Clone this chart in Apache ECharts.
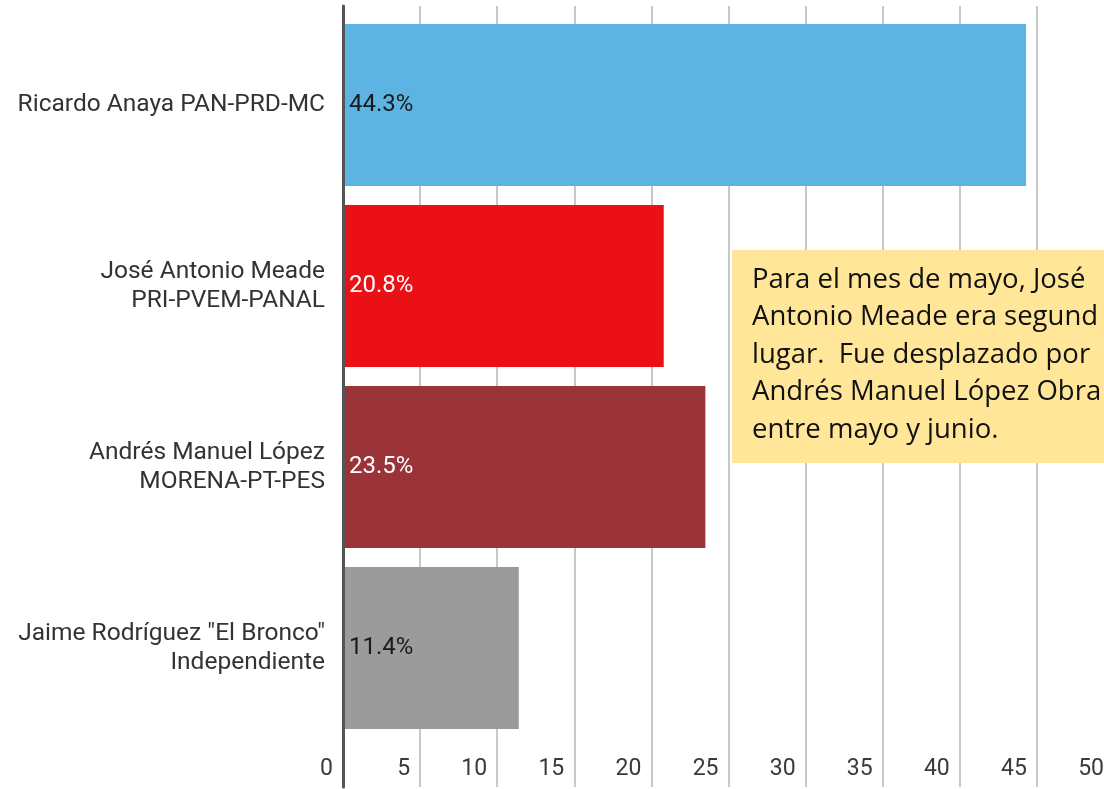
<!DOCTYPE html>
<html>
<head>
<meta charset="utf-8">
<script src="https://cdn.jsdelivr.net/npm/echarts@6/dist/echarts.min.js"></script>
<style>
  html, body { margin: 0; padding: 0; background: #fff; overflow: hidden; }
  /* el lienzo es más ancho que la ventana: la imagen original está recortada a la derecha */
  #chart { width: 1130px; height: 789px; }
</style>
</head>
<body>
<div id="chart"></div>
<script>
// datos de la gráfica
const candidates = [
  'Ricardo Anaya PAN-PRD-MC',
  'José Antonio Meade\nPRI-PVEM-PANAL',
  'Andrés Manuel López\nMORENA-PT-PES',
  'Jaime Rodríguez "El Bronco"\nIndependiente'
];
const values = [44.3, 20.8, 23.5, 11.4];
const barColors = ['#5DB4E3', '#EB0F16', '#9A3438', '#9B9B9B'];
const labelColors = ['#1a1a1a', '#ffffff', '#ffffff', '#1a1a1a'];
const noteLines = [
  'Para el mes de mayo, José',
  'Antonio Meade era segund',
  'lugar.  Fue desplazado por',
  'Andrés Manuel López Obra',
  'entre mayo y junio.'
];

const chart = echarts.init(document.getElementById('chart'));

const font = 'Roboto, sans-serif';

const option = {
  backgroundColor: '#ffffff',
  animation: false,
  grid: [
    // rejilla para líneas verticales y etiquetas del eje
    { left: 343, right: 16, top: 6, bottom: 2 },
    // rejilla para las barras
    { left: 343, right: 16, top: 14.5, bottom: 50.5 }
  ],
  xAxis: [
    {
      gridIndex: 0,
      type: 'value',
      min: 0,
      max: 50,
      interval: 5,
      axisLine: { show: false },
      axisTick: { show: false },
      splitLine: { show: true, lineStyle: { color: '#c8c8c8', width: 2 } },
      axisLabel: {
        inside: true,
        margin: 18,
        verticalAlign: 'middle',
        align: 'right',
        padding: [0, 10, 0, 0],
        fontFamily: font,
        fontSize: 23,
        color: '#3a3a3a',
        showMinLabel: true,
        showMaxLabel: true
      }
    },
    {
      gridIndex: 1,
      type: 'value',
      min: 0,
      max: 50,
      show: false
    }
  ],
  yAxis: [
    {
      gridIndex: 0,
      type: 'value',
      z: 5,
      axisLine: { show: true, lineStyle: { color: '#555', width: 3 } },
      axisTick: { show: false },
      axisLabel: { show: false },
      splitLine: { show: false }
    },
    {
      gridIndex: 1,
      type: 'category',
      inverse: true,
      data: candidates,
      axisLine: { show: false },
      axisTick: { show: false },
      splitLine: { show: false },
      axisLabel: {
        margin: 18,
        fontFamily: font,
        fontSize: 24.5,
        lineHeight: 29,
        color: '#333',
        align: 'right'
      }
    }
  ],
  series: [
    {
      type: 'bar',
      xAxisIndex: 1,
      yAxisIndex: 1,
      barCategoryGap: '10.5%',
      data: values.map((v, i) => ({
        value: v,
        itemStyle: { color: barColors[i] },
        label: { color: labelColors[i] }
      })),
      label: {
        show: true,
        position: 'insideLeft',
        distance: 6,
        fontFamily: font,
        fontSize: 24,
        formatter: p => p.value.toFixed(1) + '%'
      },
      z: 3
    }
  ],
  graphic: [
    {
      type: 'rect',
      shape: { x: 732, y: 250, width: 400, height: 213 },
      style: { fill: '#FFE699' },
      z: 10
    },
    {
      type: 'text',
      x: 752,
      y: 261,
      z: 11,
      style: {
        text: noteLines.join('\n'),
        fontFamily: '"Open Sans", sans-serif',
        fontSize: 27.5,
        lineHeight: 37.5,
        fill: '#111',
        textVerticalAlign: 'top'
      }
    }
  ]
};

chart.setOption(option);
window.addEventListener('resize', () => chart.resize());
</script>
</body>
</html>
